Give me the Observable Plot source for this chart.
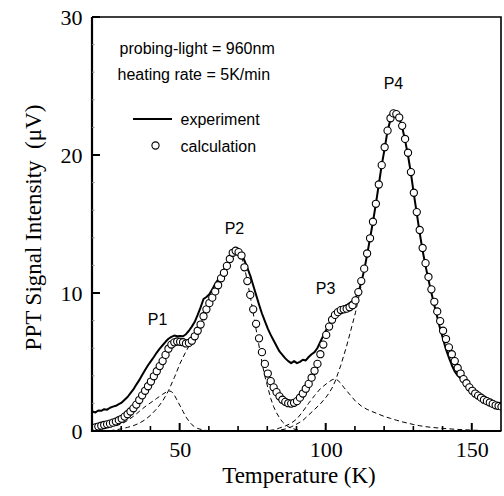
<!DOCTYPE html>
<html>
<head>
<meta charset="utf-8">
<script src="https://cdn.jsdelivr.net/npm/d3@7"></script>
<script src="https://cdn.jsdelivr.net/npm/@observablehq/plot@0.6"></script>
<style>
  body { margin: 0; background: #fff; }
</style>
</head>
<body>
<div id="chart"></div>
<script>
// ---------- data ----------
const temperature = d3.range(20, 161); // 20..160 K, 1 K grid

const experiment = [
  1.45,1.38,1.52,1.50,1.62,1.58,1.72,1.80,1.86,1.98,
  2.10,2.30,2.50,2.78,3.05,3.40,3.72,4.10,4.45,4.80,
  5.10,5.40,5.72,6.00,6.25,6.50,6.72,6.85,6.95,6.90,
  6.92,6.90,7.05,7.30,7.60,7.95,8.45,9.00,9.60,9.75,
  9.95,10.30,10.70,11.00,11.40,11.75,12.05,12.40,12.75,12.95,
  13.00,12.85,12.40,11.85,11.30,10.60,9.90,9.20,8.55,8.00,
  7.45,7.00,6.60,6.20,5.80,5.55,5.30,5.10,4.95,5.10,
  4.95,5.05,5.20,5.15,5.40,5.60,5.75,6.05,6.50,6.95,
  7.35,7.80,8.20,8.50,8.75,8.95,9.05,9.15,9.30,9.45,
  9.65,10.10,10.80,11.70,12.80,14.00,15.20,16.50,17.90,19.30,
  20.50,21.80,22.60,23.00,22.95,22.70,22.05,21.10,20.00,18.70,
  17.20,15.80,14.40,13.10,12.00,11.00,10.05,9.15,8.30,7.45,
  6.70,5.95,5.35,4.80,4.35,4.05,3.85,3.60,3.35,3.15,
  2.95,2.75,2.55,2.42,2.30,2.20,2.10,2.00,1.93,1.87,
  1.80
];

const calculation = [
  0.22,0.30,0.36,0.42,0.47,0.52,0.57,0.64,0.72,0.82,
  0.92,1.08,1.25,1.45,1.68,1.95,2.28,2.62,2.95,3.28,
  3.62,4.00,4.37,4.74,5.10,5.55,6.00,6.30,6.46,6.52,
  6.50,6.47,6.38,6.42,6.58,6.90,7.30,7.75,8.35,8.85,
  9.30,9.70,10.15,10.60,11.10,11.50,12.00,12.50,12.95,13.10,
  13.00,12.75,11.90,10.90,9.90,8.85,7.80,6.75,5.75,4.90,
  4.20,3.65,3.20,2.85,2.55,2.30,2.15,2.05,2.02,2.08,
  2.20,2.45,2.75,3.10,3.45,3.90,4.40,4.90,5.60,6.30,
  7.00,7.60,8.10,8.45,8.65,8.80,8.85,8.90,9.00,9.15,
  9.50,10.10,10.90,11.80,12.90,14.00,15.20,16.50,17.90,19.30,
  20.60,21.80,22.70,23.05,23.00,22.75,22.15,21.20,20.20,18.80,
  17.30,15.90,14.60,13.30,12.20,11.20,10.30,9.40,8.70,8.00,
  7.30,6.70,6.10,5.60,5.10,4.60,4.20,3.80,3.50,3.20,
  2.95,2.75,2.60,2.45,2.30,2.20,2.10,2.00,1.90,1.85,
  1.80
];

// component peaks (dashed)
const p1T = [20,22,24,26,28,30,32,34,36,38,40,42,44,46,47,48,49,50,51,52,53,54,55,56,58,60,65,70];
const p1V = [0.10,0.18,0.25,0.33,0.42,0.55,0.80,1.10,1.45,1.80,2.10,2.40,2.70,2.95,2.90,2.65,2.25,1.85,1.45,1.05,0.75,0.50,0.33,0.22,0.10,0.05,0.02,0.00];

const p2T = [26,28,30,32,34,36,38,40,42,44,46,48,50,52,54,56,58,60,62,64,66,68,69,70,71,72,73,74,75,76,77,78,79,80,81,82,83,84,85,86,87,88,90,92,95,100];
const p2V = [0.06,0.12,0.20,0.30,0.42,0.60,0.85,1.20,1.65,2.20,2.95,3.90,4.95,5.80,6.55,7.30,8.30,9.30,10.15,11.10,12.00,12.95,13.10,13.00,12.70,11.90,10.90,9.80,8.60,7.40,6.20,5.00,4.00,3.20,2.40,1.80,1.35,1.00,0.70,0.50,0.35,0.25,0.12,0.06,0.02,0.00];

const p3T = [78,80,82,84,86,88,90,92,94,96,98,100,102,103,104,105,106,108,110,112,114,116,118,120,122,124,126,128,130,132,134,136,140,145,150,155,160];
const p3V = [0.03,0.06,0.12,0.25,0.40,0.60,0.92,1.45,2.05,2.60,3.10,3.45,3.75,3.80,3.70,3.50,3.20,2.70,2.20,1.85,1.60,1.42,1.25,1.08,0.95,0.82,0.70,0.60,0.50,0.42,0.35,0.30,0.22,0.15,0.10,0.06,0.04];

const p4T = [82,84,86,88,90,92,94,96,98,100,101,102,103,104,105,106,107,108,109,110,111,112];
const p4V = [0.05,0.10,0.18,0.33,0.55,0.80,1.20,1.60,2.00,2.50,2.80,3.15,3.60,4.20,4.80,5.50,6.20,7.00,7.80,8.60,9.60,10.60];

const peakLabels = ["P1", "P2", "P3", "P4"];
const peakLabelT = [42.3, 68.6, 99.8, 123.0];
const peakLabelV = [7.75, 14.3, 10.0, 24.8];

const xMajorTicks = [50, 100, 150];
const xMinorTicks = [30, 40, 60, 70, 80, 90, 110, 120, 130, 140];
const yMajorTicks = [0, 10, 20, 30];
const yMinorTicks = [2, 4, 6, 8, 12, 14, 16, 18, 22, 24, 26, 28];

const annotationLines = ["probing-light = 960nm", "heating rate = 5K/min"];
const legendLabels = ["experiment", "calculation"];
const xLabel = "Temperature (K)";
const yLabel = "PPT Signal Intensity\u00a0 (\u03bcV)";

// ---------- styling ----------
const SERIF = "'Liberation Serif', 'Times New Roman', serif";
const SANS = "'Liberation Sans', Arial, Helvetica, sans-serif";

function frameAndTicks(index, scales, values, dims) {
  const x = scales.x, y = scales.y;
  const left = dims.marginLeft, right = dims.width - dims.marginRight;
  const top = dims.marginTop, bottom = dims.height - dims.marginBottom;
  const g = d3.create("svg:g").attr("fill", "none").attr("stroke", "black");
  g.append("path").attr("d", `M${left},${top}H${right}V${bottom}`).attr("stroke-width", 1.6);
  g.append("path").attr("d", `M${left},${top}V${bottom}H${right}`).attr("stroke-width", 2.2);
  for (const t of xMajorTicks) g.append("line").attr("x1", x(t)).attr("x2", x(t)).attr("y1", bottom).attr("y2", bottom - 8).attr("stroke-width", 2);
  for (const t of xMinorTicks) g.append("line").attr("x1", x(t)).attr("x2", x(t)).attr("y1", bottom).attr("y2", bottom - 5).attr("stroke-width", 1.6);
  for (const t of yMajorTicks) g.append("line").attr("x1", left).attr("x2", left + 8).attr("y1", y(t)).attr("y2", y(t)).attr("stroke-width", 2);
  for (const t of yMinorTicks) g.append("line").attr("x1", left).attr("x2", left + 2.5).attr("y1", y(t)).attr("y2", y(t)).attr("stroke-width", 1).attr("stroke", "#888");
  return g.node();
}

function legendSwatch(index, scales, values, dims) {
  const left = dims.marginLeft, top = dims.marginTop;
  const g = d3.create("svg:g");
  g.append("line").attr("x1", left + 41).attr("x2", left + 80).attr("y1", top + 102).attr("y2", top + 102)
    .attr("stroke", "black").attr("stroke-width", 2);
  return g.node();
}

const dashed = {stroke: "black", strokeWidth: 1, strokeDasharray: "4,4", curve: "linear"};

const chart = Plot.plot({
  width: 504,
  height: 496,
  marginLeft: 92,
  marginRight: 3,
  marginTop: 17,
  marginBottom: 65,
  style: {fontFamily: SERIF, fontSize: "22px", background: "white", color: "black"},
  x: {domain: [20, 160]},
  y: {domain: [0, 30]},
  marks: [
    Plot.line(p1V, {x: p1T, y: p1V, ...dashed}),
    Plot.line(p2V, {x: p2T, y: p2V, ...dashed}),
    Plot.line(p3V, {x: p3T, y: p3V, ...dashed}),
    Plot.line(p4V, {x: p4T, y: p4V, ...dashed}),
    Plot.line(experiment, {x: temperature, y: experiment, stroke: "black", strokeWidth: 2, clip: true}),
    Plot.dot(calculation, {x: temperature, y: calculation, r: 3.6, stroke: "black", strokeWidth: 1.1, fill: "white", clip: true}),
    frameAndTicks,
    Plot.axisX({ticks: xMajorTicks, tickSize: 0, tickPadding: 10, label: null, fontSize: 22, fontFamily: SERIF}),
    Plot.axisY({ticks: yMajorTicks, tickSize: 0, tickPadding: 10, label: null, fontSize: 22, fontFamily: SERIF}),
    Plot.text([xLabel], {frameAnchor: "bottom", textAnchor: "middle", dx: 2, dy: 51, lineAnchor: "bottom", fontSize: 23, fontFamily: SERIF}),
    Plot.text([yLabel], {frameAnchor: "left", textAnchor: "middle", lineAnchor: "middle", rotate: -90, dx: -59, dy: 3, fontSize: 23, fontFamily: SERIF}),
    Plot.text(peakLabels, {x: peakLabelT, y: peakLabelV, text: peakLabels, lineAnchor: "bottom", fontSize: 16, fontFamily: SANS}),
    Plot.text([annotationLines[0]], {frameAnchor: "top-left", dx: 27, dy: 36, textAnchor: "start", lineAnchor: "bottom", fontSize: 16, fontFamily: SANS}),
    Plot.text([annotationLines[1]], {frameAnchor: "top-left", dx: 25, dy: 62, textAnchor: "start", lineAnchor: "bottom", fontSize: 16, fontFamily: SANS}),
    legendSwatch,
    Plot.text([legendLabels[0]], {frameAnchor: "top-left", dx: 88, dy: 107.5, textAnchor: "start", lineAnchor: "bottom", fontSize: 16, fontFamily: SANS}),
    Plot.dot([legendLabels[1]], {frameAnchor: "top-left", dx: 63, dy: 128, r: 3.6, stroke: "black", strokeWidth: 1.1, fill: "white"}),
    Plot.text([legendLabels[1]], {frameAnchor: "top-left", dx: 88, dy: 134, textAnchor: "start", lineAnchor: "bottom", fontSize: 16, fontFamily: SANS})
  ]
});

document.getElementById("chart").appendChild(chart);
</script>
</body>
</html>
